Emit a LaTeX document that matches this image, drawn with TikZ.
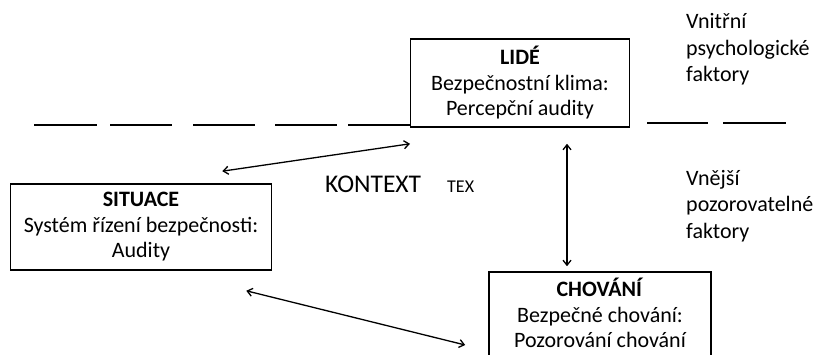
\documentclass[tikz,border=0pt]{standalone}
\usepackage{fontspec}
\setmainfont{Carlito}
\usepackage{tikz}
\usetikzlibrary{arrows.meta}

\begin{document}
\begin{tikzpicture}[
  x=1pt, y=-1pt,
  box/.style={draw=black, line width=1.6pt, fill=white, inner sep=2pt,
              align=center, font=\fontsize{22}{25.5}\selectfont},
  side/.style={anchor=base west, align=left, inner sep=0pt,
               font=\fontsize{22}{26.5}\selectfont},
  arr/.style={{Straight Barb[length=5pt,width=8pt]}-{Straight Barb[length=5pt,width=8pt]},
              line width=1.3pt},
  splitline/.style={line width=1.3pt},
]
  \clip (0,0) rectangle (818,355);
  \useasboundingbox (0,0) rectangle (818,355);

  % levels: dashed split line
  \foreach \xa/\xb in {34/97, 110/172, 193/255, 275/337, 348/411}
    \draw[splitline] (\xa,125) -- (\xb,125);
  \foreach \xa/\xb in {647/708, 723/786}
    \draw[splitline] (\xa,123) -- (\xb,123);

  \node[box, minimum width=219pt, minimum height=88pt] (lide) at (520,83)
    {\textbf{LIDÉ}\\Bezpečnostní klima:\\Percepční audity};
  \node[box, minimum width=261pt, minimum height=86pt] (situace) at (141,227)
    {\textbf{SITUACE}\\Systém řízení bezpečnosti:\\Audity};
  % bottom of this box runs off the page
  \node[box, draw=none, minimum width=220pt, minimum height=80pt, inner ysep=0pt] (chovani) at (600,313)
    {\textbf{CHOVÁNÍ}\\Bezpečné chování:\\Pozorování chování};
  \draw[line width=1.6pt] (chovani.north west) rectangle ([shift={(0,20)}]chovani.south east);

  \node[font=\fontsize{25.5}{28}\selectfont, anchor=base west, inner sep=0pt] (kontext) at (325,193) {KONTEXT};
  \node[font=\fontsize{18}{20}\selectfont, anchor=base west, inner sep=0pt] (tex) at (447,193) {TEX};

  \node[side] (vnitrni) at (686,82) {Vnitřní\\psychologické\\faktory};
  \node[side] (vnejsi) at (686,238) {Vnější\\pozorovatelné\\faktory};

  \draw[arr] ([shift={(-50,-12)}]situace.north east) -- ([shift={(-110,16)}]lide.south);
  \draw[arr] ([shift={(47,16)}]lide.south) -- ([shift={(-33,-6)}]chovani.north);
  \draw[arr] ([shift={(-26,20)}]situace.south east) -- ([shift={(-24,32)}]chovani.west);
\end{tikzpicture}
\end{document}
